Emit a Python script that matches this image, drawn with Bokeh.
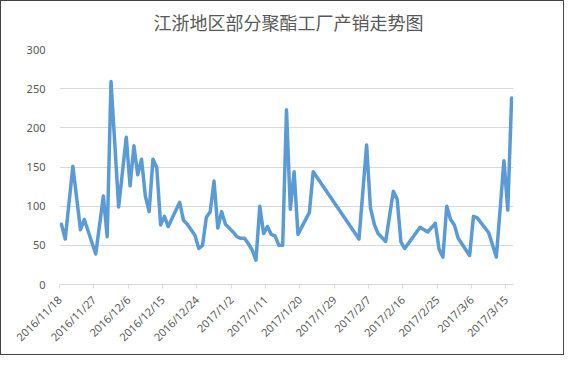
import math
import pandas as pd
from bokeh.plotting import figure
from bokeh.models import ColumnDataSource, Range1d, FixedTicker, CustomJSTickFormatter, Title
from bokeh.embed import file_html
from bokeh.resources import INLINE

title_text = "江浙地区部分聚酯工厂产销走势图"

dates = [
    "2016-11-18", "2016-11-19", "2016-11-21", "2016-11-23", "2016-11-24", "2016-11-27",
    "2016-11-29", "2016-11-30", "2016-12-01", "2016-12-03", "2016-12-05", "2016-12-06",
    "2016-12-07", "2016-12-08", "2016-12-09", "2016-12-10", "2016-12-11", "2016-12-12",
    "2016-12-13", "2016-12-14", "2016-12-15", "2016-12-16", "2016-12-19", "2016-12-20",
    "2016-12-21", "2016-12-22", "2016-12-23", "2016-12-24", "2016-12-25", "2016-12-26",
    "2016-12-27", "2016-12-28", "2016-12-29", "2016-12-30", "2016-12-31", "2017-01-01",
    "2017-01-02", "2017-01-03", "2017-01-04", "2017-01-05", "2017-01-06", "2017-01-07",
    "2017-01-08", "2017-01-09", "2017-01-10", "2017-01-11", "2017-01-12", "2017-01-13",
    "2017-01-14", "2017-01-15", "2017-01-16", "2017-01-17", "2017-01-18", "2017-01-19",
    "2017-01-22", "2017-01-23", "2017-02-04", "2017-02-06", "2017-02-07", "2017-02-08",
    "2017-02-09", "2017-02-11", "2017-02-13", "2017-02-14", "2017-02-15", "2017-02-16",
    "2017-02-20", "2017-02-22", "2017-02-24", "2017-02-25", "2017-02-26", "2017-02-27",
    "2017-02-28", "2017-03-01", "2017-03-02", "2017-03-05", "2017-03-06", "2017-03-07",
    "2017-03-10", "2017-03-12", "2017-03-14", "2017-03-15", "2017-03-16",
]
values = [
    77, 58, 151, 70, 83, 39,
    113, 61, 259, 99, 188, 126,
    177, 140, 160, 113, 93, 160,
    149, 76, 87, 74, 105, 82,
    77, 70, 63, 46, 50, 86,
    93, 132, 72, 93, 77, 72,
    67, 61, 59, 59, 52, 44,
    31, 100, 65, 74, 64, 62,
    50, 50, 223, 96, 144, 64,
    92, 144, 58, 178, 98, 77,
    65, 55, 119, 109, 54, 46,
    73, 67, 78, 45, 35, 100,
    83, 76, 59, 37, 87, 85,
    66, 35, 158, 95, 238,
]

tick_labels = [
    "2016/11/18", "2016/11/27", "2016/12/6", "2016/12/15", "2016/12/24",
    "2017/1/2", "2017/1/11", "2017/1/20", "2017/1/29", "2017/2/7",
    "2017/2/16", "2017/2/25", "2017/3/6", "2017/3/15",
]
y_ticks = [0, 50, 100, 150, 200, 250, 300]

x = pd.to_datetime(dates) + pd.Timedelta(hours=12)
src = ColumnDataSource(dict(x=x, y=values))

tick_ms = [pd.Timestamp(t.replace("/", "-")).value / 1e6 for t in tick_labels]

p = figure(
    width=564, height=355, x_axis_type="datetime",
    output_backend="svg", toolbar_location=None,
    x_range=Range1d(pd.Timestamp("2016-11-18"), pd.Timestamp("2017-03-17")),
    y_range=Range1d(0, 300),
    min_border_left=58, min_border_right=52, min_border_top=48, min_border_bottom=72,
    background_fill_color="white", border_fill_color="white",
)
p.styles = {"border": "1px solid #444444"}
p.outline_line_color = None

p.title.text = title_text
p.title.align = "left"
p.title.offset = 94
p.title.standoff = 8
p.title.text_font = "Noto Sans CJK SC"
p.title.text_font_size = "18px"
p.title.text_font_style = "normal"
p.title.text_color = "#595959"

p.add_layout(Title(text=" ", text_font_size="8px", standoff=0), "above")

p.line("x", "y", source=src, line_color="#5B9BD5", line_width=3.5,
       line_join="round", line_cap="round")

p.xgrid.grid_line_color = None
p.ygrid.grid_line_color = "#D9D9D9"
p.ygrid.grid_line_width = 1

p.yaxis.ticker = FixedTicker(ticks=y_ticks)
p.yaxis.axis_line_color = None
p.yaxis.major_tick_line_color = None
p.yaxis.minor_tick_line_color = None
p.yaxis.major_label_standoff = 8
p.yaxis.major_label_text_font = "Noto Sans"
p.yaxis.major_label_text_font_size = "11px"
p.yaxis.major_label_text_color = "#595959"

p.xaxis.ticker = FixedTicker(ticks=tick_ms)
p.xaxis.formatter = CustomJSTickFormatter(code="""
const d = new Date(tick);
return d.getUTCFullYear() + "/" + (d.getUTCMonth() + 1) + "/" + d.getUTCDate();
""")
p.xaxis.axis_line_color = "#D9D9D9"
p.xaxis.major_tick_line_color = "#D9D9D9"
p.xaxis.major_tick_out = 4
p.xaxis.major_tick_in = 0
p.xaxis.minor_tick_line_color = None
p.xaxis.major_label_orientation = math.pi / 4
p.xaxis.major_label_standoff = 9
p.xaxis.major_label_text_font = "Noto Sans"
p.xaxis.major_label_text_font_size = "11px"
p.xaxis.major_label_text_color = "#595959"

open("out.html", "w").write(file_html(p, INLINE))
